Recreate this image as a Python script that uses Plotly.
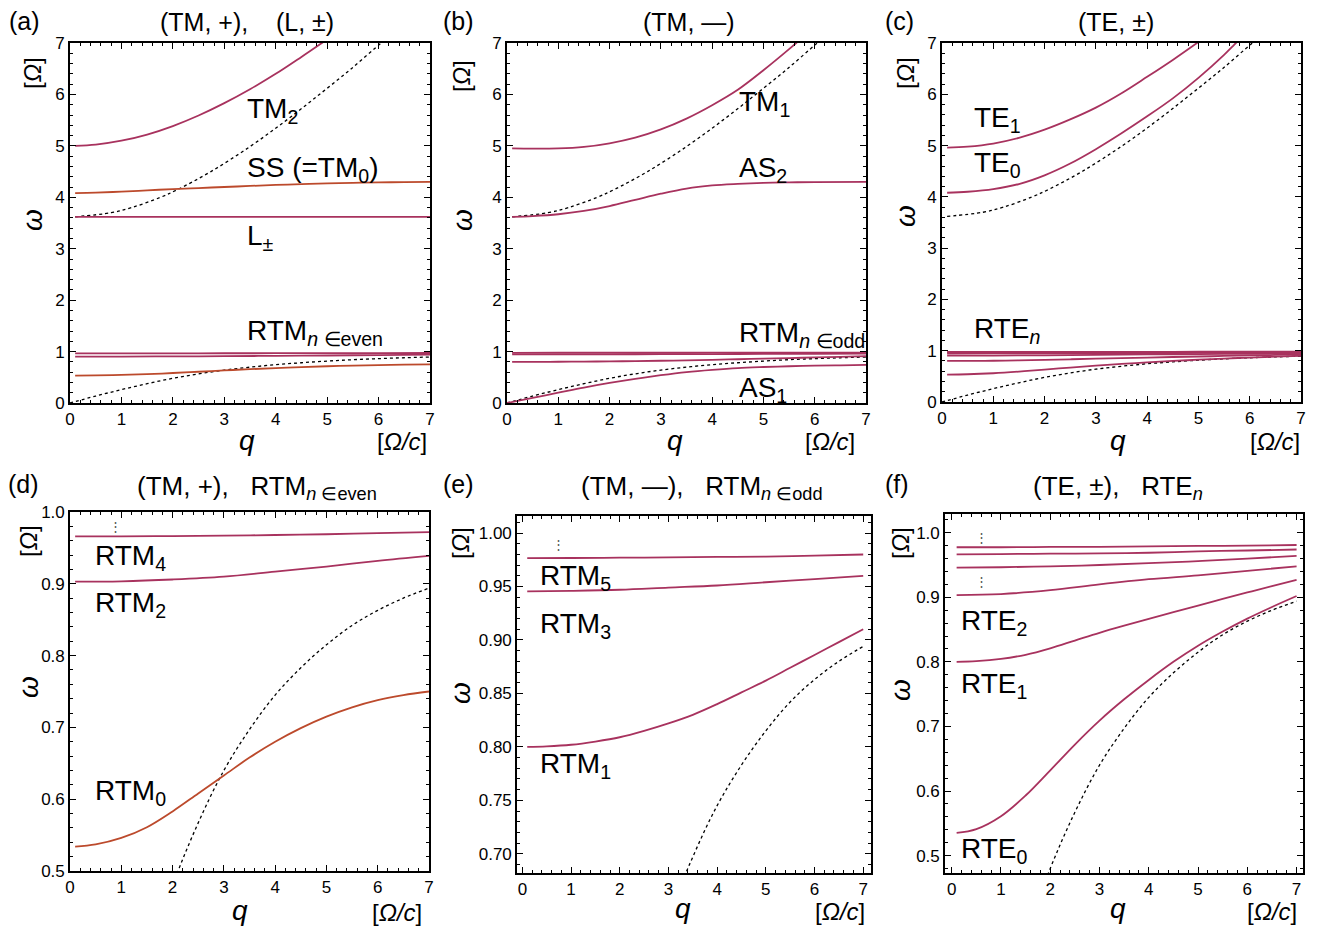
import plotly.graph_objects as go

W, H = 1330, 927
OFF = 8  # page offset of the figure in the browser
MAG = "#A8325E"
ORG = "#BC4A2C"
FONT = "Liberation Sans, Arial, sans-serif"

# ---------------- data ----------------
Q_STD = [0.1, 0.5, 1, 1.5, 2, 2.5, 3, 3.5, 4, 4.5, 5, 5.5, 6, 6.5, 7]
Q_8 = [0.1, 1, 2, 3, 4, 5, 6, 7]

# dotted guide curves
DOT_LO_q = [0, 0.5, 1, 1.5, 2, 2.5, 3, 3.5, 4, 4.5, 5, 5.5, 6, 6.5, 7]
DOT_LO_w = [0, 0.135, 0.26, 0.375, 0.48, 0.567, 0.64, 0.697, 0.745, 0.783, 0.815, 0.842, 0.863, 0.880, 0.894]
DOT_HI_q = [0.1, 0.8, 1.2, 1.76, 2.09, 2.74, 3.52, 4.21, 4.85, 5.47, 6.05, 6.2]
DOT_HI_w = [3.62, 3.70, 3.80, 4.00, 4.15, 4.50, 5.00, 5.50, 6.00, 6.50, 7.00, 7.12]

# (a) TM,+ and L
TM2_q = [0.1, 0.5, 1, 1.5, 2, 2.5, 3, 3.5, 4, 4.5, 5.0]
TM2_w = [5.00, 5.025, 5.10, 5.22, 5.385, 5.59, 5.83, 6.10, 6.40, 6.73, 7.07]
SS_w = [4.08, 4.09, 4.11, 4.135, 4.16, 4.18, 4.20, 4.22, 4.24, 4.255, 4.27, 4.28, 4.29, 4.295, 4.30]
L_q = [0.1, 7]
L_w = [3.62, 3.62]
RTM0_w = [0.534, 0.537, 0.546, 0.561, 0.583, 0.608, 0.633, 0.658, 0.680, 0.699, 0.715, 0.728, 0.738, 0.745, 0.750]
RTM2_w = [0.903, 0.9035, 0.906, 0.910, 0.917, 0.924, 0.932, 0.939]
RTM4_w = [0.966, 0.966, 0.9665, 0.967, 0.968, 0.969, 0.9705, 0.972]

# (b) TM,-
TM1_q = [0.1, 0.5, 1, 1.5, 2, 2.5, 3, 3.5, 4, 4.5, 5, 5.5, 5.8]
TM1_w = [4.95, 4.945, 4.95, 4.98, 5.05, 5.16, 5.32, 5.53, 5.79, 6.09, 6.47, 6.88, 7.14]
AS2_q = [0.1, 0.5, 1, 1.5, 2, 2.5, 3, 3.5, 4, 4.5, 5, 5.5, 6, 7]
AS2_w = [3.62, 3.635, 3.67, 3.735, 3.83, 3.95, 4.07, 4.17, 4.23, 4.26, 4.28, 4.29, 4.296, 4.30]
AS1_q = [0, 0.5, 1, 1.5, 2, 2.5, 3, 3.5, 4, 4.5, 5, 5.5, 6, 6.5, 7]
AS1_w = [0, 0.10, 0.20, 0.30, 0.39, 0.47, 0.54, 0.60, 0.645, 0.68, 0.70, 0.715, 0.725, 0.733, 0.74]
RTM1_w = [0.800, 0.8005, 0.802, 0.805, 0.809, 0.815, 0.822, 0.830, 0.840, 0.851, 0.862, 0.874, 0.886, 0.898, 0.910]
RTM3_w = [0.9455, 0.946, 0.947, 0.949, 0.951, 0.954, 0.957, 0.960]
RTM5_w = [0.9765, 0.9767, 0.977, 0.9773, 0.9777, 0.978, 0.979, 0.980]

# (c) TE
TE1_q = [0.1, 0.5, 1, 1.5, 2, 2.5, 3, 3.5, 4, 4.5, 5.0]
TE1_w = [4.96, 4.98, 5.04, 5.15, 5.31, 5.51, 5.74, 6.02, 6.34, 6.67, 7.02]
TE0_q = [0.1, 0.5, 1, 1.5, 2, 2.5, 3, 3.5, 4, 4.5, 5, 5.5, 5.7, 5.8]
TE0_w = [4.08, 4.10, 4.15, 4.25, 4.42, 4.65, 4.93, 5.24, 5.57, 5.92, 6.32, 6.77, 6.97, 7.07]
RTE0_w = [0.535, 0.541, 0.561, 0.593, 0.632, 0.672, 0.709, 0.742, 0.772, 0.800, 0.825, 0.847, 0.867, 0.885, 0.902]
RTE1_w = [0.800, 0.801, 0.8045, 0.811, 0.821, 0.833, 0.845, 0.856, 0.8665, 0.877, 0.8872, 0.8975, 0.9075, 0.9173, 0.927]
RTE2_w = [0.9035, 0.905, 0.911, 0.920, 0.928, 0.934, 0.941, 0.948]
RTE3_w = [0.946, 0.9465, 0.948, 0.950, 0.953, 0.956, 0.960, 0.964]
RTE4_w = [0.9665, 0.967, 0.9675, 0.968, 0.969, 0.971, 0.9725, 0.974]
RTE5_w = [0.9775, 0.9775, 0.978, 0.978, 0.979, 0.9795, 0.980, 0.981]

# ---------------- layout of the six panels (pixel boxes) ----------------
PANELS = [
    dict(L=70, R=430, T=43, B=403, xr=[0, 7], yr=[0, 7], ydt=1, ymn=0.2, yfmt="d"),
    dict(L=507, R=866, T=43, B=403, xr=[0, 7], yr=[0, 7], ydt=1, ymn=0.2, yfmt="d"),
    dict(L=942, R=1301, T=43, B=402, xr=[0, 7], yr=[0, 7], ydt=1, ymn=0.2, yfmt="d"),
    dict(L=70, R=429, T=512, B=871, xr=[0, 7], yr=[0.5, 1.0], ydt=0.1, ymn=0.02, yfmt=".1f"),
    dict(L=517, R=871, T=516, B=873, xr=[-0.11, 7.16], yr=[0.682, 1.016], ydt=0.05, ymn=0.01, yfmt=".2f"),
    dict(L=945, R=1303, T=514, B=873, xr=[-0.136, 7.13], yr=[0.473, 1.029], ydt=0.1, ymn=0.02, yfmt=".1f"),
]


def fx(px):
    return (px - OFF) / W


def fy(py):
    return 1 - (py - OFF) / H


fig = go.Figure()


def line(i, q, w, color=MAG, dot=False):
    suf = "" if i == 1 else str(i)
    fig.add_trace(go.Scatter(
        x=q, y=w, mode="lines", xaxis="x" + suf, yaxis="y" + suf,
        line=dict(color="black" if dot else color, width=1.3 if dot else 1.8,
                  dash="dot" if dot else "solid", shape="spline", smoothing=1.0),
        showlegend=False, hoverinfo="skip"))


# (a)
line(1, DOT_LO_q, DOT_LO_w, dot=True)
line(1, DOT_HI_q, DOT_HI_w, dot=True)
line(1, TM2_q, TM2_w)
line(1, Q_STD, SS_w, ORG)
line(1, L_q, L_w)
line(1, Q_STD, RTM0_w, ORG)
line(1, Q_8, RTM2_w)
line(1, Q_8, RTM4_w)
# (b)
line(2, DOT_LO_q, DOT_LO_w, dot=True)
line(2, DOT_HI_q, DOT_HI_w, dot=True)
line(2, TM1_q, TM1_w)
line(2, AS2_q, AS2_w)
line(2, AS1_q, AS1_w)
line(2, Q_STD, RTM1_w)
line(2, Q_8, RTM3_w)
line(2, Q_8, RTM5_w)
# (c)
line(3, DOT_LO_q, DOT_LO_w, dot=True)
line(3, DOT_HI_q, DOT_HI_w, dot=True)
line(3, TE1_q, TE1_w)
line(3, TE0_q, TE0_w)
for arr in (RTE0_w, RTE1_w):
    line(3, Q_STD, arr)
for arr in (RTE2_w, RTE3_w, RTE4_w, RTE5_w):
    line(3, Q_8, arr)
# (d)
line(4, DOT_LO_q, DOT_LO_w, dot=True)
line(4, Q_STD, RTM0_w, ORG)
line(4, Q_8, RTM2_w)
line(4, Q_8, RTM4_w)
# (e)
line(5, DOT_LO_q, DOT_LO_w, dot=True)
line(5, Q_STD, RTM1_w)
line(5, Q_8, RTM3_w)
line(5, Q_8, RTM5_w)
# (f)
line(6, DOT_LO_q, DOT_LO_w, dot=True)
for arr in (RTE0_w, RTE1_w):
    line(6, Q_STD, arr)
for arr in (RTE2_w, RTE3_w, RTE4_w, RTE5_w):
    line(6, Q_8, arr)

tickfont = dict(family=FONT, size=17, color="black")
layout = dict(width=W, height=H, margin=dict(l=0, r=0, t=0, b=0, pad=0, autoexpand=False),
              paper_bgcolor="white", plot_bgcolor="white", showlegend=False)
for i, p in enumerate(PANELS, start=1):
    suf = "" if i == 1 else str(i)
    common = dict(showgrid=False, zeroline=False, showline=True, linecolor="black",
                  linewidth=1.6, mirror="allticks", ticks="inside", ticklen=6,
                  tickwidth=1.2, tickcolor="black", tickfont=tickfont, automargin=False)
    layout["xaxis" + suf] = dict(
        domain=[fx(p["L"]), fx(p["R"])], range=p["xr"], anchor="y" + suf,
        tick0=0, dtick=1,
        minor=dict(ticks="inside", ticklen=3, dtick=0.2, tick0=0, tickcolor="black", tickwidth=1),
        **common)
    layout["yaxis" + suf] = dict(
        domain=[fy(p["B"]), fy(p["T"])], range=p["yr"], anchor="x" + suf,
        tick0=0, dtick=p["ydt"], tickformat=p["yfmt"],
        minor=dict(ticks="inside", ticklen=3, dtick=p["ymn"], tick0=0, tickcolor="black", tickwidth=1),
        **common)
fig.update_layout(**layout)


def ann(text, px, py, size=28, xa="left", ya="middle", angle=0, color="black"):
    fig.add_annotation(text=text, x=fx(px), y=fy(py), xref="paper", yref="paper",
                       xanchor=xa, yanchor=ya, showarrow=False, textangle=angle,
                       borderpad=0, font=dict(family=FONT, size=size, color=color))


NB = "\u00a0"
# panel letters and titles
for lab, px, py in [("(a)", 8, 21), ("(b)", 442, 21), ("(c)", 884, 21),
                    ("(d)", 7, 484), ("(e)", 442, 484), ("(f)", 884, 484)]:
    ann(lab, px, py, size=25)
ann("(TM, +)," + NB * 4 + "(L, ±)", 247, 22, size=25, xa="center")
ann("(TM, —)", 689, 22, size=25, xa="center")
ann("(TE, ±)", 1116, 22, size=25, xa="center")
ann("(TM, +)," + NB * 3 + "RTM<sub><i>n</i> ∈even</sub>", 257, 488, size=26, xa="center")
ann("(TM, —)," + NB * 3 + "RTM<sub><i>n</i> ∈odd</sub>", 702, 488, size=26, xa="center")
ann("(TE, ±)," + NB * 3 + "RTE<sub><i>n</i></sub>", 1118, 488, size=26, xa="center")

# axis labels
for (ox, oy, wx, wy, qx, qy, cx, cy) in [
        (32, 73, 32, 220, 247, 440, 402, 441),
        (462, 76, 462, 220, 675, 440, 830, 441),
        (905, 73, 905, 216, 1118, 440, 1275, 441),
        (28, 541, 28, 687, 240, 910, 397, 912),
        (460, 543, 460, 693, 683, 908, 840, 911),
        (900, 543, 900, 690, 1118, 908, 1272, 911)]:
    ann("[<i>Ω</i>]", ox, oy, size=24, xa="center", angle=-90)
    ann("<i>ω</i>", wx, wy, size=28, xa="center", angle=-90)
    ann("<i>q</i>", qx, qy, size=28, xa="center")
    ann("[<i>Ω/c</i>]", cx, cy, size=24, xa="center")

# curve labels
ann("TM<sub>2</sub>", 246, 110)
ann("SS (=TM<sub>0</sub>)", 246, 169)
ann("L<sub>±</sub>", 246, 237)
ann("RTM<sub><i>n</i> ∈even</sub>", 246, 332)
ann("TM<sub>1</sub>", 738, 104)
ann("AS<sub>2</sub>", 738, 169)
ann("RTM<sub><i>n</i> ∈odd</sub>", 738, 335)
ann("AS<sub>1</sub>", 738, 389)
ann("TE<sub>1</sub>", 973, 119)
ann("TE<sub>0</sub>", 973, 164)
ann("RTE<sub><i>n</i></sub>", 973, 330)
ann("RTM<sub>4</sub>", 94, 557)
ann("RTM<sub>2</sub>", 94, 604)
ann("RTM<sub>0</sub>", 94, 792)
ann("RTM<sub>5</sub>", 539, 577)
ann("RTM<sub>3</sub>", 539, 625)
ann("RTM<sub>1</sub>", 539, 765)
ann("RTE<sub>2</sub>", 960, 622)
ann("RTE<sub>1</sub>", 960, 685)
ann("RTE<sub>0</sub>", 960, 850)
# vertical ellipses
for px, py in [(115, 526), (558, 544), (981, 537), (981, 581)]:
    ann("⋮", px, py, size=13, xa="center", color="#555555")

fig.write_html("out.html")
